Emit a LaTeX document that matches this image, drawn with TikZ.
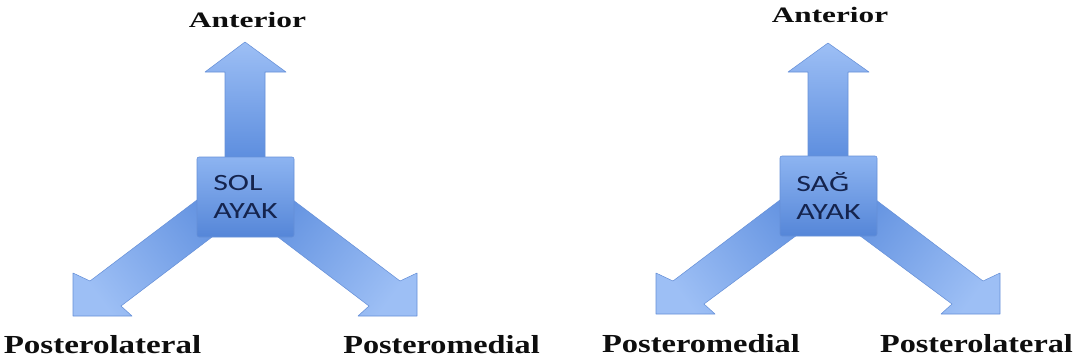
\documentclass[tikz,border=0pt]{standalone}
\usepackage{fontspec}
\setmainfont{Liberation Serif}
\newfontfamily\boxfont{Carlito}
\definecolor{arrowlight}{HTML}{9DBFF5}
\definecolor{arrowdark}{HTML}{5C8DDE}
\definecolor{boxtop}{HTML}{8DB4F1}
\definecolor{boxbot}{HTML}{5586D8}
\definecolor{edgeblue}{HTML}{6690D8}
\definecolor{boxtext}{HTML}{15244E}
\definecolor{labeltext}{HTML}{0E0E0E}
\tikzset{
  uparrow/.style={top color=arrowlight, bottom color=arrowdark, draw=edgeblue, line width=0.4pt, line join=round},
  leftarrow/.style={top color=arrowlight, bottom color=arrowdark, shading angle=127, draw=edgeblue, line width=0.4pt, line join=round},
  rightarrow/.style={top color=arrowlight, bottom color=arrowdark, shading angle=-127, draw=edgeblue, line width=0.4pt, line join=round},
  footbox/.style={inner sep=0pt, minimum width=72.75pt, minimum height=60pt, rounded corners=1.5pt,
    top color=boxtop, bottom color=boxbot, draw=edgeblue, line width=0.4pt,
    text=boxtext, align=left, font=\boxfont\fontsize{17.5}{21}\selectfont},
  toplabel/.style={anchor=base, text=labeltext, inner sep=0pt, font=\bfseries\fontsize{16.5}{18}\selectfont},
  botlabel/.style={anchor=base, text=labeltext, inner sep=0pt, font=\bfseries\fontsize{19.5}{21}\selectfont}
}
\begin{document}
\begin{tikzpicture}[x=0.75pt, y=-0.75pt]
\useasboundingbox (0,0) rectangle (1084,362);
% ---------- left figure ----------
\begin{scope}[shift={(245,0)}]
  \draw[uparrow] (-20,160) -- (-20,72) -- (-40,72) -- (0,42) -- (41,72) -- (20,72) -- (20,160) -- cycle;
  \draw[leftarrow] (-15,175) -- (-155,281) -- (-172,273) -- (-172,316) -- (-113,316) -- (-124,306) -- (0,212) -- cycle;
  \draw[rightarrow] (15,175) -- (155,281) -- (172,273) -- (172,316) -- (113,316) -- (124,306) -- (0,212) -- cycle;
\end{scope}
\node[footbox] (solbox) at (245.5,197) {\scalebox{1.37}[1]{SOL}\\\scalebox{1.37}[1]{AYAK}};
\node[toplabel] (antL) at (247.5,27) {\scalebox{1.43}[1]{Anterior}};
\node[botlabel] (plL) at (102.5,353) {\scalebox{1.27}[1]{Posterolateral}};
\node[botlabel] (pmL) at (441.5,353) {\scalebox{1.24}[1]{Posteromedial}};
% ---------- right figure ----------
\begin{scope}[shift={(828,0)}]
  \draw[uparrow] (-20,160) -- (-20,72) -- (-40,72) -- (0,43) -- (41,72) -- (20,72) -- (20,160) -- cycle;
  \draw[leftarrow] (-15,175) -- (-155,281) -- (-172,273) -- (-172,314) -- (-113,314) -- (-124,304) -- (0,212) -- cycle;
  \draw[rightarrow] (15,175) -- (155,281) -- (172,273) -- (172,314) -- (113,314) -- (124,304) -- (0,212) -- cycle;
\end{scope}
\node[footbox] (sagbox) at (828.5,196) {\scalebox{1.37}[1]{SAĞ}\\\scalebox{1.37}[1]{AYAK}};
\node[toplabel] (antR) at (830,22) {\scalebox{1.42}[1]{Anterior}};
\node[botlabel] (pmR) at (701,352) {\scalebox{1.25}[1]{Posteromedial}};
\node[botlabel] (plR) at (976.5,352) {\scalebox{1.24}[1]{Posterolateral}};
\end{tikzpicture}
\end{document}
